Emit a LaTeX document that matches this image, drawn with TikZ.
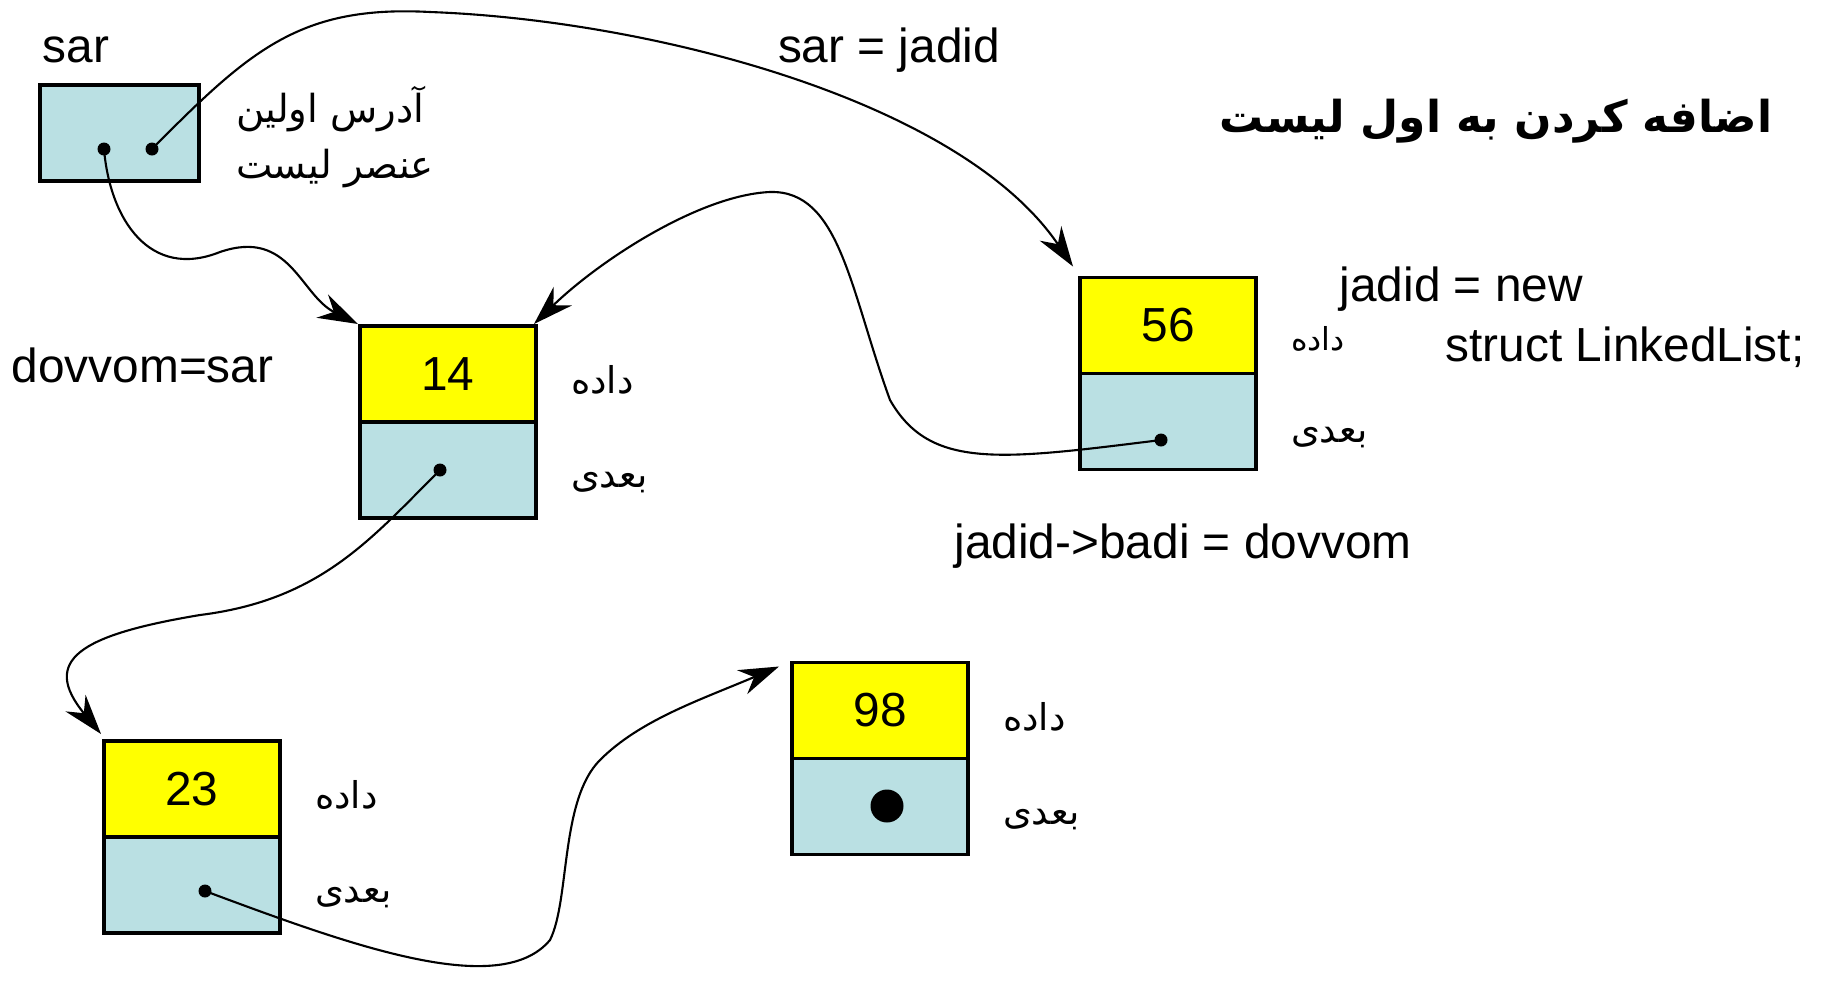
\documentclass[tikz,border=0pt]{standalone}
\usepackage{fontspec}
\setmainfont{Liberation Sans}
\newfontfamily\farsi[Script=Arabic]{DejaVu Sans}
\TeXXeTstate=1
\usetikzlibrary{arrows.meta,positioning}
\definecolor{cellyellow}{RGB}{255,255,0}
\definecolor{cellblue}{RGB}{186,224,227}

\begin{document}
\begin{tikzpicture}[x=0.1mm,y=-0.1mm,node distance=0cm,outer sep=0pt,
    >={Stealth[length=4mm,width=2.6mm,inset=1.3mm]}]
\tikzstyle{data}=[draw, line width=0.9pt, fill=cellyellow, minimum width=17.6mm,
    minimum height=9.6mm, text centered, font=\fontsize{13.6}{16}\selectfont]
\tikzstyle{ptr}=[draw, line width=0.9pt, fill=cellblue, minimum width=17.6mm, minimum height=9.6mm]
\tikzstyle{lbl}=[inner sep=0pt, font=\farsi\fontsize{10.5}{13}\selectfont]
\tikzstyle{dot}=[circle, fill=black, inner sep=0pt, minimum size=1.3mm]
\tikzstyle{txt}=[font=\fontsize{13.6}{16}\selectfont]
\tikzstyle{link}=[line width=0.6pt, ->]
\useasboundingbox (0,0) rectangle (1828,980);

    \node (sarbox) [ptr, minimum width=15.9mm] at (119.5,133) {};
    \node (sar) [txt] at (76,50) {sar};
    \node (sarnote) [lbl, font=\farsi\fontsize{11}{13}\selectfont, align=left, anchor=west] at (236,137)
        {\beginR آدرس اولین\endR\\[1mm]\beginR عنصر لیست\endR};

    \node (f14) [data] at (448,374) {14};
    \node (p14) [ptr, anchor=north] at (f14.south) {};
    \node (f56) [data] at (1168,325.5) {56};
    \node (p56) [ptr, anchor=north] at (f56.south) {};
    \node (f23) [data] at (192,789) {23};
    \node (p23) [ptr, anchor=north] at (f23.south) {};
    \node (f98) [data] at (880,710.5) {98};
    \node (p98) [ptr, anchor=north] at (f98.south) {};

    \node (l14d) [lbl, right=3.5mm of f14, yshift=-0.6mm] {\beginR داده\endR};
    \node (l14b) [lbl, right=3.5mm of p14, yshift=-1.3mm] {\beginR بعدی\endR};
    \node (l56d) [lbl, right=3.5mm of f56, yshift=-1.3mm, font=\farsi\fontsize{9}{11}\selectfont] {\beginR داده\endR};
    \node (l56b) [lbl, right=3.5mm of p56, yshift=-1.6mm] {\beginR بعدی\endR};
    \node (l23d) [lbl, right=3.5mm of f23, yshift=-0.6mm] {\beginR داده\endR};
    \node (l23b) [lbl, right=3.5mm of p23, yshift=-1.3mm] {\beginR بعدی\endR};
    \node (l98d) [lbl, right=3.5mm of f98, yshift=-0.6mm] {\beginR داده\endR};
    \node (l98b) [lbl, right=3.5mm of p98, yshift=-1.3mm] {\beginR بعدی\endR};

    \node (title) at (1496,121) {\farsi\bfseries\fontsize{12.5}{15}\selectfont\beginR اضافه کردن به اول لیست\endR};
    \node (sarjadid) [txt] at (889,50) {sar = jadid};
    \node (jadidnew) [txt, anchor=west] at (1328,289) {jadid = new};
    \node (struct) [txt, anchor=west] at (1434,347) {struct LinkedList;};
    \node (badi) [txt] at (1183,546) {jadid->badi = dovvom};
    \node (dovvom) [txt, anchor=west] at (0,365) {dovvom=sar};

    \node (dsar1) [dot] at (104,149) {};
    \node (dsar2) [dot] at (152,149) {};
    \node (d14) [dot] at (440,470) {};
    \node (d56) [dot] at (1161,440) {};
    \node (d23) [dot] at (205,891) {};
    \node (d98) [dot, minimum size=3.3mm] at (887,806) {};

    \coordinate (t56) at ([shift={(-7,-11)}]f56.north west);
    \coordinate (t14a) at ([shift={(-2,-2)}]f14.north west);
    \coordinate (t14b) at ([shift={(-2,-2)}]f14.north east);
    \coordinate (t23) at ([shift={(-3,-7)}]f23.north west);
    \coordinate (t98) at ([shift={(-13,4)}]f98.north west);

    \draw [link] (dsar2.center) .. controls (250,50) and (300,5) .. (430,12)
        .. controls (650,20) and (960,100) .. (t56);
    \draw [link] (dsar1.center) .. controls (110,220) and (150,280) .. (220,252)
        .. controls (290,228) and (300,295) .. (t14a);
    \draw [link] (d56.center) .. controls (1000,460) and (930,470) .. (890,400)
        .. controls (850,290) and (840,190) .. (770,192)
        .. controls (700,195) and (600,260) .. (t14b);
    \draw [link] (d14.center) .. controls (370,540) and (320,600) .. (200,615)
        .. controls (80,635) and (40,660) .. (t23);
    \draw [link] (d23.center) .. controls (350,945) and (500,1000) .. (550,940)
        .. controls (570,900) and (560,800) .. (600,760)
        .. controls (640,720) and (700,700) .. (t98);
\end{tikzpicture}
\end{document}
